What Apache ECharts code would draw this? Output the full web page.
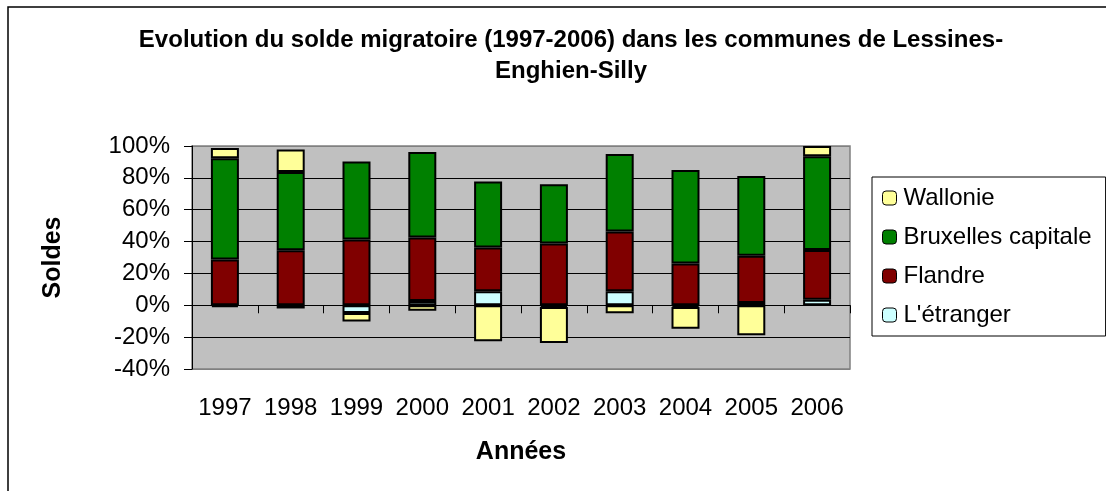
<!DOCTYPE html>
<html>
<head>
<meta charset="utf-8">
<script src="https://cdn.jsdelivr.net/npm/echarts@6/dist/echarts.min.js"></script>
<style>
  html, body { margin: 0; padding: 0; background: #fff; }
  #chart { width: 1106px; height: 491px; }
</style>
</head>
<body>
<div id="chart"></div>
<script>
const years = ['1997', '1998', '1999', '2000', '2001', '2002', '2003', '2004', '2005', '2006']
const etranger = [-1.2, -2, -4.8, 2.7, 8.75, -1, 8.75, -1, 1.5, 3.5]
const flandre = [28.75, 34.6, 41.25, 39.8, 27.5, 38.75, 37.5, 26.25, 29.6, 31.25]
const bruxelles = [63.5, 49, 49, 53.75, 41.5, 37.3, 48.75, 58.75, 50, 58.75]
const wallonie = [6.5, 14.2, -5.4, -3.5, -22.5, -22.7, -5, -13.75, -18.75, 6.5]

const FONT = '"Liberation Sans", Arial, sans-serif'

const chart = echarts.init(document.getElementById('chart'))

const barSeries = (name, data, color) => ({
  name,
  type: 'bar',
  stack: 'solde',
  data,
  barWidth: 28,
  xAxisIndex: 0,
  itemStyle: { color, borderColor: '#000', borderWidth: 2 },
})

chart.setOption({
  animation: false,
  textStyle: { fontFamily: FONT, color: '#000' },
  title: {
    text: 'Evolution du solde migratoire (1997-2006) dans les communes de Lessines-\nEnghien-Silly',
    left: 566,
    top: 20,
    textAlign: 'center',
    textStyle: { fontFamily: FONT, fontSize: 24, fontWeight: 'bold', color: '#000', lineHeight: 31 },
  },
  graphic: [{
    type: 'rect',
    shape: { x: 8, y: 7, width: 1200, height: 600 },
    style: { fill: 'none', stroke: '#000', lineWidth: 1.5 },
    silent: true,
  }],
  legend: {
    orient: 'vertical',
    left: 872,
    top: 177,
    data: ['Wallonie', 'Bruxelles capitale', 'Flandre', "L'étranger"],
    itemWidth: 14,
    itemHeight: 14,
    itemGap: 13,
    padding: [8, 14, 8, 10],
    borderColor: '#000',
    borderWidth: 1,
    itemStyle: { borderColor: '#000', borderWidth: 1 },
    textStyle: { fontFamily: FONT, fontSize: 24, color: '#000', lineHeight: 26, padding: [0, 0, 0, 2] },
  },
  grid: {
    left: 192, right: 256, top: 146, bottom: 122,
    show: true, backgroundColor: '#c0c0c0', borderColor: '#808080', borderWidth: 1.5,
  },
  xAxis: [
    {
      type: 'category',
      data: years,
      axisLine: { onZero: true, lineStyle: { color: '#000', width: 1 } },
      axisTick: { show: true, length: 8, lineStyle: { color: '#000' } },
      axisLabel: { show: false },
    },
    {
      type: 'category',
      data: years,
      position: 'bottom',
      axisLine: { show: false, onZero: false },
      axisTick: { show: false },
      axisLabel: { interval: 0, fontFamily: FONT, fontSize: 24, color: '#000', margin: 27 },
      name: 'Années',
      nameLocation: 'middle',
      nameGap: 71,
      nameTextStyle: { fontFamily: FONT, fontSize: 25, fontWeight: 'bold', color: '#000' },
    },
  ],
  yAxis: {
    type: 'value',
    min: -40,
    max: 100,
    interval: 20,
    axisLine: { show: true, lineStyle: { color: '#000' } },
    axisTick: { show: true, length: 8, lineStyle: { color: '#000' } },
    axisLabel: { formatter: '{value}%', fontFamily: FONT, fontSize: 24, color: '#000', margin: 22 },
    splitLine: {
      lineStyle: { color: ['#808080', '#000', '#000', '#000', '#000', '#000', '#000', '#808080'], width: 1 },
    },
    name: 'Soldes',
    nameLocation: 'middle',
    nameGap: 126,
    nameTextStyle: { fontFamily: FONT, fontSize: 25, fontWeight: 'bold', color: '#000' },
  },
  series: [
    barSeries("L'étranger", etranger, '#ccffff'),
    barSeries('Flandre', flandre, '#800000'),
    barSeries('Bruxelles capitale', bruxelles, '#008000'),
    barSeries('Wallonie', wallonie, '#ffff99'),
  ],
})
</script>
</body>
</html>
